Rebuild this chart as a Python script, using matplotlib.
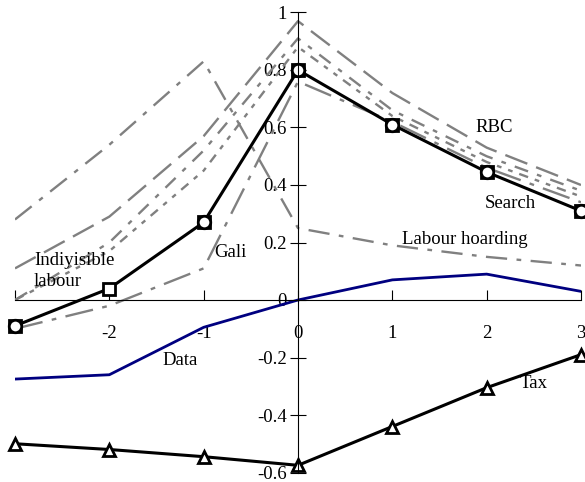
import matplotlib.pyplot as plt

plt.rcParams["font.family"] = ["Liberation Serif", "DejaVu Serif"]
plt.rcParams["font.size"] = 13.5

quarters = [-3, -2, -1, 0, 1, 2, 3]

data = [-0.275, -0.26, -0.095, 0.0, 0.07, 0.09, 0.03]
tax = [-0.50, -0.52, -0.545, -0.575, -0.44, -0.305, -0.19]
benchmark = [-0.09, 0.04, 0.27, 0.80, 0.61, 0.445, 0.31]

hoarding = [0.28, 0.54, 0.83, 0.25, 0.19, 0.15, 0.12]
rbc = [0.11, 0.29, 0.57, 0.97, 0.72, 0.53, 0.40]
indivisible = [0.0, 0.20, 0.52, 0.91, 0.66, 0.50, 0.38]
search = [0.0, 0.17, 0.45, 0.88, 0.64, 0.48, 0.36]
gali = [-0.10, -0.02, 0.11, 0.76, 0.62, 0.46, 0.34]

grey = "#808080"

fig = plt.figure(figsize=(5.85, 4.82), dpi=100)
ax = fig.add_axes([15 / 585, 9.5 / 482, 566 / 585, 460 / 482])

ax.plot(quarters, hoarding, color=grey, lw=1.7, dashes=(9, 4, 2, 4))
ax.plot(quarters, rbc, color=grey, lw=1.7, dashes=(10, 4))
ax.plot(quarters, indivisible, color=grey, lw=1.7, dashes=(6, 4, 2, 4))
ax.plot(quarters, search, color=grey, lw=1.7, dashes=(4, 3, 2, 3, 2, 3))
ax.plot(quarters, gali, color=grey, lw=1.7, dashes=(12, 4, 2, 4))

ax.plot(quarters, data, color="#000080", lw=2)
ax.plot(quarters, tax, color="black", lw=2.2, marker="^", ms=9,
        mfc="white", mec="black", mew=2, clip_on=False)
ax.plot(quarters, benchmark, color="black", lw=2.2, marker="s", ms=8,
        mfc="white", mec="black", mew=2, clip_on=False)
ax.plot(quarters, benchmark, ls="none", marker="o", ms=9, mfc="white",
        mec="black", mew=2, markevery=[0, 2, 3, 4, 5, 6], clip_on=False)

ax.set_xlim(-3, 3)
ax.set_ylim(-0.6, 1.0)
ax.spines["left"].set_position(("data", 0))
ax.spines["bottom"].set_position(("data", 0))
ax.spines["right"].set_visible(False)
ax.spines["top"].set_visible(False)
ax.set_xticks(quarters)
ax.set_xticklabels(["", "-2", "-1", "0", "1", "2", "3"])
ax.set_yticks([-0.6, -0.4, -0.2, 0, 0.2, 0.4, 0.6, 0.8, 1])
ax.set_yticklabels(["-0.6", "-0.4", "-0.2", "0", "0.2", "0.4", "0.6", "0.8", "1"])
ax.tick_params(axis="x", direction="in", length=7, pad=18)
ax.tick_params(axis="y", direction="inout", length=12, pad=2)

ax.text(-2.80, 0.10, "Indiyisible\nlabour", va="center", ha="left", linespacing=1.3)
ax.text(-0.89, 0.165, "Gali", va="center", ha="left")
ax.text(1.10, 0.21, "Labour hoarding", va="center", ha="left")
ax.text(1.88, 0.60, "RBC", va="center", ha="left")
ax.text(1.98, 0.335, "Search", va="center", ha="left")
ax.text(-1.44, -0.21, "Data", va="center", ha="left")
ax.text(2.35, -0.29, "Tax", va="center", ha="left")

fig.savefig("out.png", dpi=100)
